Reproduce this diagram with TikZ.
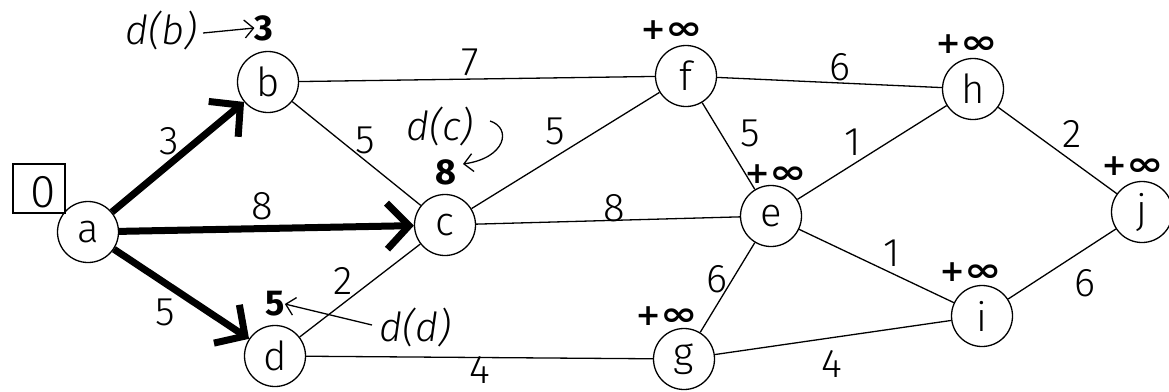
\documentclass[tikz,border=0pt]{standalone}
\usepackage{fontspec}
\usepackage{graphicx}
\setmainfont{Fira Sans}[UprightFont=* Light, ItalicFont=* Light Italic, BoldFont=* Bold]
\newfontfamily\djv{DejaVu Sans}
\usetikzlibrary{arrows.meta}
\begin{document}
\begin{tikzpicture}[x=1pt,y=-1pt,
  vtx/.style={circle,draw,line width=1.3pt,minimum size=61pt,inner sep=0pt,font=\fontsize{40}{40}\selectfont},
  wt/.style={font=\fontsize{40}{40}\selectfont,inner sep=0pt},
  dist/.style={font=\fontsize{36}{36}\selectfont\bfseries,inner sep=0pt},
  inf/.style={font=\djv\bfseries\fontsize{30}{30}\selectfont,inner sep=0pt},
  ann/.style={font=\fontsize{40}{40}\selectfont\itshape,inner sep=0pt},
  edgeline/.style={line width=1.3pt},
  heavy/.style={line width=7pt,-{Straight Barb[length=22pt,width=46pt,line width=7pt]}},
  pointer/.style={line width=1.3pt,-{Straight Barb[length=9pt,width=18pt]}}]
\useasboundingbox (0,0) rectangle (1169,391);
% vertices
\node[vtx] (a) at (88,232) {a};
\node[vtx] (b) at (268,82) {b};
\node[vtx] (c) at (445,225) {c};
\node[vtx] (d) at (275,356) {d};
\node[vtx] (f) at (686,76) {f};
\node[vtx] (h) at (973,89) {h};
\node[vtx] (e) at (771,216) {e};
\node[vtx] (j) at (1142,212) {j};
\node[vtx] (i) at (982,316) {i};
\node[vtx] (g) at (684,359) {g};
% start box
\node[draw,line width=1.3pt,minimum width=52pt,minimum height=49pt,inner sep=0pt] (zero) at (39,188.5) {};
\node[inner sep=0pt,font=\fontsize{46}{46}\selectfont] (zerodigit) at (43,192) {0};
% thin edges
\draw[edgeline] (b) -- (f);
\draw[edgeline] (b) -- (c);
\draw[edgeline] (c) -- (f);
\draw[edgeline] (c) -- (e);
\draw[edgeline] (d) -- (c);
\draw[edgeline] (d) -- (g);
\draw[edgeline] (f) -- (h);
\draw[edgeline] (f) -- (e);
\draw[edgeline] (e) -- (h);
\draw[edgeline] (e) -- (g);
\draw[edgeline] (e) -- (i);
\draw[edgeline] (g) -- (i);
\draw[edgeline] (h) -- (j);
\draw[edgeline] (i) -- (j);
% heavy arrows
\draw[heavy] (a) -- (b);
\draw[heavy] (a) -- (c);
\draw[heavy] (a) -- (d);
% weights
\node[wt] (w-ab) at (169,141) {3};
\node[wt] (w-ac) at (262,206) {8};
\node[wt] (w-ad) at (165,312) {5};
\node[wt] (w-bf) at (470,62) {7};
\node[wt] (w-bc) at (365,140) {5};
\node[wt] (w-cf) at (555,131) {5};
\node[wt] (w-ce) at (614,208) {8};
\node[wt] (w-dc) at (343,281) {2};
\node[wt] (w-dg) at (480,370) {4};
\node[wt] (w-fh) at (840,67) {6};
\node[wt] (w-fe) at (750,133) {5};
\node[wt] (w-eh) at (853,142) {1};
\node[wt] (w-hj) at (1072,134) {2};
\node[wt] (w-ei) at (892,253) {1};
\node[wt] (w-eg) at (717,279) {6};
\node[wt] (w-ij) at (1085,283) {6};
\node[wt] (w-gi) at (832,364) {4};
% distances
\node[dist] (db) at (264,28) {3};
\node[dist] (dc) at (446,172) {8};
\node[dist] (dd) at (275,304) {5};
\node[inf] (df) at (672,30) {+\scalebox{1.5}[1.1]{∞}};
\node[inf] (dh) at (967,44) {+\scalebox{1.5}[1.1]{∞}};
\node[inf] (de) at (776,174) {+\scalebox{1.5}[1.1]{∞}};
\node[inf] (dj) at (1133,166) {+\scalebox{1.5}[1.1]{∞}};
\node[inf] (di) at (971,272) {+\scalebox{1.5}[1.1]{∞}};
\node[inf] (dg) at (667,316) {+\scalebox{1.5}[1.1]{∞}};
% annotations
\node[ann] (tb) at (161,30) {d(b)};
\draw[pointer] (tb.east) ++(6,3) coordinate (tb-s) -- (db.west);
\node[ann] (tc) at (440,126) {d(c)};
\coordinate (tc-s) at (490,121);
\coordinate (tc-e) at (463,164);
\draw[pointer] (tc-s) .. controls (512,128) and (506,158) .. (tc-e);
\node[ann] (td) at (415,327) {d(d)};
\coordinate (td-s) at (372,325);
\draw[pointer] (td-s) -- (dd.east);
\end{tikzpicture}
\end{document}
